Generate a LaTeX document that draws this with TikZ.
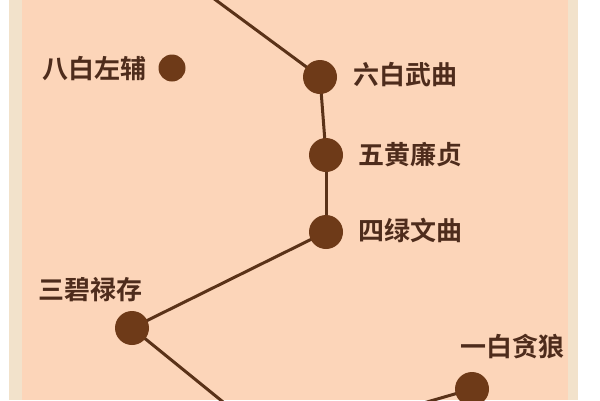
\documentclass[tikz,border=0pt]{standalone}
\usepackage{fontspec}
\usetikzlibrary{backgrounds}
\newfontfamily\cjk{Noto Sans CJK SC Bold}
\definecolor{peach}{HTML}{FCD5B9}
\definecolor{band}{HTML}{F2E2CB}
\definecolor{dotc}{HTML}{6E3A18}
\definecolor{linec}{HTML}{5A3218}
\definecolor{txt}{HTML}{4E2C1C}
\tikzset{
  star/.style={circle,fill=dotc,draw=none,minimum size=34pt,inner sep=0pt},
  smallstar/.style={star,minimum size=27pt},
  lbl/.style={font=\cjk\fontsize{26pt}{28pt}\selectfont,text=txt,inner sep=0pt},
  link/.style={draw=linec,line width=3pt}
}
\begin{document}
\begin{tikzpicture}[x=1pt,y=-1pt]
\useasboundingbox (0,0) rectangle (600,400);
\begin{scope}
\clip (0,0) rectangle (600,400);
\coordinate (top) at (213,-2);
\coordinate (botL) at (228,406);
\coordinate (botR) at (420,404);
\node[smallstar] (ba) at (172,68) {};
\node[star] (liu) at (320,77) {};
\node[star] (wu) at (326,155) {};
\node[star] (si) at (326,232) {};
\node[star] (san) at (132,328) {};
\node[star] (yi) at (472,389) {};
\begin{pgfonlayer}{background}
\fill[white] (0,0) rectangle (600,400);
\fill[band] (9,0) rectangle (24,400);
\fill[band] (566,0) rectangle (578,400);
\fill[peach] (22,0) rectangle (568,400);
\draw[link] (top) -- (liu.center);
\draw[link] (liu.center) -- (wu.center);
\draw[link] (wu.center) -- (si.center);
\draw[link] (si.center) -- (san.center);
\draw[link] (san.center) -- (botL);
\draw[link] (yi.center) -- (botR);
\end{pgfonlayer}
\end{scope}
\node[lbl] (tba) at (94,69) {八白左辅};
\node[lbl] (tliu) at (405,75) {六白武曲};
\node[lbl] (twu) at (410,155) {五黄廉贞};
\node[lbl] (tsi) at (410,230) {四绿文曲};
\node[lbl] (tsan) at (90,290) {三碧禄存};
\node[lbl] (tyi) at (512,347) {一白贪狼};
\end{tikzpicture}
\end{document}
